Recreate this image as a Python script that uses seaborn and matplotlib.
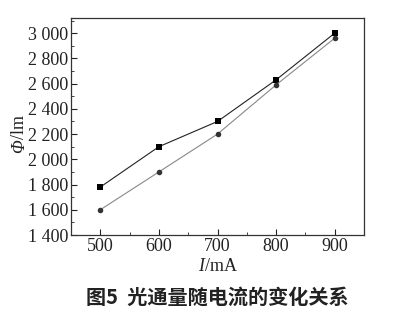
import matplotlib
matplotlib.use("Agg")
import matplotlib.pyplot as plt
import seaborn as sns
import pandas as pd
from matplotlib.ticker import MultipleLocator, FuncFormatter

current = [500, 600, 700, 800, 900]
flux_a = [1780, 2100, 2300, 2630, 3000]
flux_b = [1600, 1900, 2200, 2590, 2960]
caption = "图5  光通量随电流的变化关系"

sns.set_theme(style="ticks")
plt.rcParams['font.family'] = ['Liberation Serif', 'DejaVu Serif']
plt.rcParams['mathtext.fontset'] = 'custom'
plt.rcParams['mathtext.rm'] = 'Liberation Serif'
plt.rcParams['mathtext.it'] = 'Liberation Serif:italic'

df = pd.DataFrame({"I": current * 2,
                   "flux": flux_a + flux_b,
                   "s": ["a"] * 5 + ["b"] * 5})

fig = plt.figure(figsize=(4.13, 3.17), dpi=100)
ax = fig.add_axes([71/413, 1 - 235/317, (364-71)/413, (235-18)/317])

sns.lineplot(data=df[df.s == "a"], x="I", y="flux", ax=ax, color="#222222",
             lw=0.8, marker="s", markersize=4, markeredgewidth=0,
             markerfacecolor="black")
sns.lineplot(data=df[df.s == "b"], x="I", y="flux", ax=ax, color="#888888",
             lw=0.8, marker="o", markersize=4, markeredgewidth=0,
             markerfacecolor="#333333")

ax.set_xlim(450, 950)
ax.set_ylim(1400, 3120)
ax.xaxis.set_major_locator(MultipleLocator(100))
ax.xaxis.set_minor_locator(MultipleLocator(50))
ax.yaxis.set_major_locator(MultipleLocator(200))
ax.yaxis.set_minor_locator(MultipleLocator(100))

def fmt(v, pos):
    v = int(round(v))
    if v >= 1000:
        return f"{v // 1000} {v % 1000:03d}"
    return str(v)

ax.yaxis.set_major_formatter(FuncFormatter(fmt))
ax.tick_params(axis="both", which="both", direction="in", labelsize=13,
               colors="#222222", pad=2)
ax.tick_params(which="major", length=4, width=0.8)
ax.tick_params(which="minor", length=2, width=0.6)
for s in ax.spines.values():
    s.set_linewidth(0.9)
    s.set_color("#333333")

ax.set_xlabel(r"$I$/mA", fontsize=13, labelpad=2, color="#222222")
ax.set_ylabel("")

# y label: italic Phi + upright /lm
yx, yy = 24/413, 1 - 139/317
fig.text(yx, yy, "Φ", rotation=90, rotation_mode="anchor", ha="right",
         va="baseline", fontsize=13, fontstyle="italic", color="#222222")
fig.text(yx, yy, "/lm", rotation=90, rotation_mode="anchor", ha="left",
         va="baseline", fontsize=13, color="#222222")

fig.text(0.526, 1 - 297/317, caption, ha="center", va="center", fontsize=14.5,
         family=["Noto Sans CJK SC", "DejaVu Sans"], fontweight="bold",
         color="#222222")

fig.savefig("out.png", dpi=100)
